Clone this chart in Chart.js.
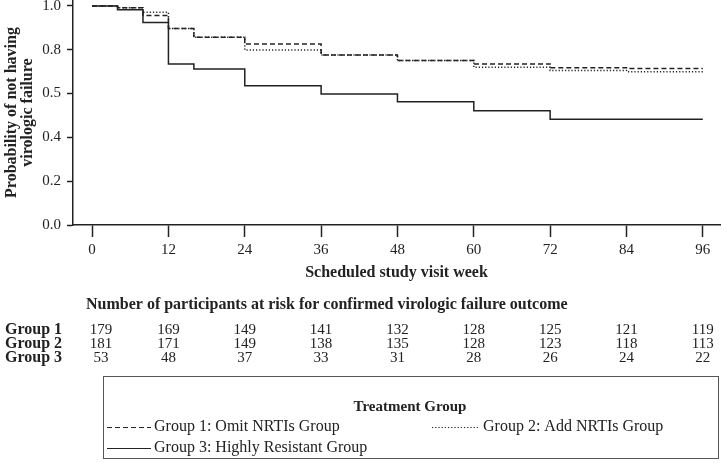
<!DOCTYPE html>
<html><head><meta charset="utf-8">
<script src="https://cdn.jsdelivr.net/npm/chart.js@4/dist/chart.umd.min.js"></script>
<style>html,body{margin:0;padding:0;background:#fff;} #wrap{width:727px;height:463px;position:relative}</style>
</head><body><div id="wrap"><canvas id="c" width="727" height="463"></canvas></div>
<script>
const weeks = [0,12,24,36,48,60,72,84,96];
const yTickValues = [0,0.2,0.4,0.6,0.8,1.0];
const yTickLabels = ['0.0','0.2','0.4','0.5','0.8','1.0'];
const group1Times = [0,4,8,12,16,24,36,48,60,72,84,96];
const group1Surv  = [1.0,0.992,0.956,0.897,0.857,0.826,0.776,0.751,0.735,0.718,0.714,0.714];
const group2Times = [0,4,8,12,16,24,36,48,60,72,84,96];
const group2Surv  = [1.0,0.992,0.971,0.897,0.857,0.799,0.776,0.751,0.720,0.705,0.700,0.700];
const group3Times = [0,4,8,12,16,24,36,48,60,72,96];
const group3Surv  = [1.0,0.982,0.924,0.735,0.712,0.636,0.598,0.562,0.521,0.483,0.483];
const groupNames = ['Group 1','Group 2','Group 3'];
const seriesLabels = ['Group 1: Omit NRTIs Group','Group 2: Add NRTIs Group','Group 3: Highly Resistant Group'];
const atRisk1 = [179,169,149,141,132,128,125,121,119];
const atRisk2 = [181,171,149,138,135,128,123,118,113];
const atRisk3 = [53,48,37,33,31,28,26,24,22];
const riskTitle = 'Number of participants at risk for confirmed virologic failure outcome';
const legendTitle = 'Treatment Group';
const yTitle = ['Probability of not having','virologic failure'];
const xTitle = 'Scheduled study visit week';

const FF = "'Liberation Serif','DejaVu Serif',serif";
const INK = '#222';

function pts(t, s){ return t.map((x,i)=>({x:x, y:s[i]})); }

const datasets = [
  {label: seriesLabels[0], data: pts(group1Times, group1Surv), borderDash:[5,3]},
  {label: seriesLabels[1], data: pts(group2Times, group2Surv), borderDash:[1.2,2]},
  {label: seriesLabels[2], data: pts(group3Times, group3Surv), borderDash:[]}
].map(d=>Object.assign(d,{borderColor:INK, borderWidth:1.5, pointRadius:0, stepped:'before', fill:false, clip:false, tension:0}));

const extras = {
  id:'extras',
  afterDraw(chart){
    const ctx = chart.ctx, xs = chart.scales.x;
    ctx.save();
    ctx.fillStyle = INK;
    // risk table
    ctx.font = "bold 16px " + FF;
    ctx.textBaseline = 'middle';
    ctx.textAlign = 'left';
    ctx.fillText(riskTitle, 86, 305);
    const rows = [atRisk1, atRisk2, atRisk3];
    const rowY = [330, 344, 358];
    rows.forEach((r,ri)=>{
      ctx.font = "bold 16px " + FF;
      ctx.textAlign = 'left';
      ctx.fillText(groupNames[ri], 5, rowY[ri]);
      ctx.font = "15px " + FF;
      ctx.textAlign = 'center';
      r.forEach((v,i)=>{
        const px = xs.getPixelForValue(weeks[i]) + (i===0 ? 9 : 0);
        ctx.fillText(String(v), px, rowY[ri]);
      });
    });
    // legend box
    const bx=103, by=376, bw=615, bh=82;
    ctx.strokeStyle = '#555'; ctx.lineWidth = 1;
    ctx.strokeRect(bx+0.5, by+0.5, bw, bh);
    ctx.font = "bold 15px " + FF;
    ctx.textAlign = 'center';
    ctx.fillText(legendTitle, 410, 407);
    const items = [[107,427],[432,427],[107,448]];
    const sampleW = [44, 48, 44];
    chart.data.datasets.forEach((d,i)=>{
      const [ix,iy] = items[i];
      ctx.strokeStyle = INK; ctx.lineWidth = 1.2;
      ctx.setLineDash(d.borderDash);
      ctx.beginPath(); ctx.moveTo(ix, iy+0.5); ctx.lineTo(ix+sampleW[i], iy+0.5); ctx.stroke();
      ctx.setLineDash([]);
      ctx.font = "16px " + FF;
      ctx.textAlign = 'left';
      ctx.fillText(d.label, ix+sampleW[i]+3, iy);
    });
    ctx.restore();
  }
};

new Chart(document.getElementById('c'), {
  type:'line',
  data:{datasets},
  options:{
    responsive:false, animation:false, devicePixelRatio:1,
    layout:{padding:{top:0, right:7, left:0, bottom:183}},
    plugins:{legend:{display:false}, tooltip:{enabled:false}},
    scales:{
      x:{
        type:'linear', min:-3, max:98.7,
        afterBuildTicks(s){ s.ticks = weeks.map(v=>({value:v})); },
        afterFit(s){ s.height = 55; s.paddingLeft = 0; s.paddingRight = 0; },
        grid:{drawOnChartArea:false, drawTicks:true, tickLength:12, tickColor:INK, tickWidth:1.5},
        border:{display:true, color:INK, width:1.5},
        ticks:{color:INK, font:{family:FF, size:15}, padding:4, maxRotation:0, autoSkip:false},
        title:{display:true, text:xTitle, color:INK, font:{family:FF, size:16, weight:'bold'}, padding:{top:0,bottom:-2}}
      },
      y:{
        min:0, max:1.027,
        afterBuildTicks(s){ s.ticks = yTickValues.map(v=>({value:v})); },
        afterFit(s){ s.width = 73; s.paddingTop = 0; s.paddingBottom = 0; },
        grid:{drawOnChartArea:false, drawTicks:true, tickLength:6, tickColor:INK, tickWidth:1.5},
        border:{display:true, color:INK, width:1.5},
        ticks:{color:INK, font:{family:FF, size:15}, padding:6, autoSkip:false,
          callback(v){ const i = yTickValues.findIndex(t=>Math.abs(t-v)<1e-9); return i>=0 ? yTickLabels[i] : ''; }},
        title:{display:true, text:yTitle, color:INK, font:{family:FF, size:16, weight:'bold', lineHeight:1.0}, padding:{top:4,bottom:0}}
      }
    }
  },
  plugins:[extras]
});
</script></body></html>
